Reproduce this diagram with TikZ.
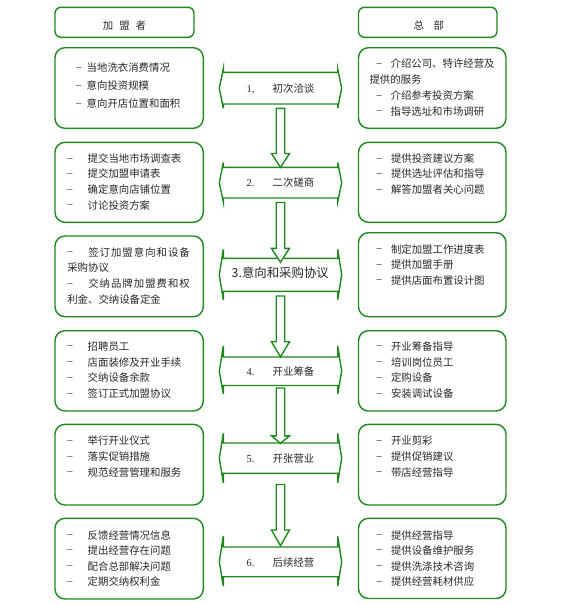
\documentclass[tikz,border=0pt]{standalone}
\usepackage{fontspec}
\setmainfont{Noto Sans CJK SC}
\newfontfamily\numfont{Liberation Serif}
\usetikzlibrary{calc}
\definecolor{gr}{RGB}{30,138,30}
\definecolor{tx}{RGB}{40,40,40}
\tikzset{
 gline/.style={draw=gr, line width=1.4pt, line join=miter},
 cbox/.style={draw=gr, line width=1.4pt, rounded corners=10pt, inner sep=0pt, outer sep=0pt, fill=white},
 hbox/.style={cbox, rounded corners=6pt},
 t/.style={anchor=base west, inner sep=0pt, outer sep=0pt, text=tx, font=\fontsize{10.4}{12}\selectfont},
 nt/.style={t, font=\numfont\fontsize{10.4}{12}\selectfont},
 abody/.style={inner sep=0pt, outer sep=0pt, minimum width=114.4pt},
}
% box: name, x1, y1, x2, y2
\newcommand\mybox[6][cbox]{\node[#1, minimum width={(#5-#3)*1pt}, minimum height={(#6-#4)*1pt}] (#2) at ({(#3+#5)/2},{(#4+#6)/2}) {};}
% dashed line item: name, dash x, text x, y centre, text
\newcommand\dl[5]{\node[nt] (#1d) at (#2,{#4+2.7}) {–}; \node[t] (#1) at (#3,{#4+4}) {#5};}
% plain line: name, x, y centre, text
\newcommand\pl[4]{\node[t] (#1) at (#2,{#3+4}) {#4};}
% horizontal double arrow: name, body top, body bottom, flare top, flare bottom
\newcommand\harrow[5]{%
 \node[abody, minimum height={(#3-#2)*1pt}] (#1) at (280.5,{(#2+#3)/2}) {};
 \draw[gline, fill=white] ($(#1.north west)+(0,-#4)$) -- (#1.north west) -- (#1.north east) -- ($(#1.north east)+(0,-#4)$) -- ($(#1.east)+(4,0)$) -- ($(#1.south east)+(0,#5)$) -- (#1.south east) -- (#1.south west) -- ($(#1.south west)+(0,#5)$) -- ($(#1.west)+(-4,0)$) -- cycle;}
% down block arrow: from, to, gap, head length, tip offset
\newcommand\darrow[5]{%
 \draw[gline, fill=white] let \p1=($(#1.south)+(0,#3)$), \p2=($(#2.north)+(0,#5)$) in
 (\x1-4.25pt,\y1) -- (\x1+4.25pt,\y1) -- (\x1+4.25pt,\y2+#4pt) -- (\x1+9pt,\y2+#4pt) -- (\x1,\y2) -- (\x1-9pt,\y2+#4pt) -- (\x1-4.25pt,\y2+#4pt) -- cycle;}
\begin{document}
\begin{tikzpicture}[x=1pt,y=-1pt]
\useasboundingbox (0,0) rectangle (571,605);
% headers
\mybox[hbox]{HL}{55}{7.3}{194}{37.3}
\mybox[hbox]{HR}{358.5}{7.3}{497}{37.3}
\node[t, anchor=base] (HLt) at (124.5,29) {加\hspace{6pt}盟\hspace{6pt}者};
\node[t, anchor=base] (HRt) at (428.7,29) {总\hspace{9.6pt}部};
% left boxes
\mybox{L1}{55}{47.7}{203.3}{128.3}
\mybox{L2}{55}{142.3}{203.3}{222.3}
\mybox{L3}{55}{236}{203.3}{316.7}
\mybox{L4}{55}{330.7}{203.3}{411}
\mybox{L5}{55}{424.3}{203.3}{505}
\mybox{L6}{55}{518.3}{203.3}{599}
% right boxes
\mybox{R1}{358.5}{47.7}{506}{128.3}
\mybox{R2}{358.5}{142.3}{506}{222.3}
\mybox{R3}{358.5}{232.7}{506}{316.7}
\mybox{R4}{358.5}{330.7}{506}{411}
\mybox{R5}{358.5}{424.3}{506}{505}
\mybox{R6}{358.5}{518.3}{506}{598.5}
% left texts
\dl{La1}{76}{86.7}{67.7}{当地洗衣消费情况}
\dl{La2}{76}{86.7}{85.7}{意向投资规模}
\dl{La3}{76}{86.7}{103.3}{意向开店位置和面积}
\dl{Lb1}{67.3}{87.7}{158.3}{提交当地市场调查表}
\dl{Lb2}{67.3}{87.7}{173.3}{提交加盟申请表}
\dl{Lb3}{67.3}{87.7}{189.3}{确定意向店铺位置}
\dl{Lb4}{67.3}{87.7}{205}{讨论投资方案}
\dl{Lc1}{67.3}{88.3}{252}{\addfontfeatures{LetterSpace=9.6}签订加盟意向和设备}
\pl{Lc2}{67.3}{267}{采购协议}
\dl{Lc3}{67.3}{88.3}{283.5}{\addfontfeatures{LetterSpace=9.6}交纳品牌加盟费和权}
\pl{Lc4}{67.3}{299.3}{利金、交纳设备定金}
\dl{Ld1}{67.3}{87.7}{346}{招聘员工}
\dl{Ld2}{67.3}{87.7}{362}{店面装修及开业手续}
\dl{Ld3}{67.3}{87.7}{377.7}{交纳设备余款}
\dl{Ld4}{67.3}{87.7}{393.3}{签订正式加盟协议}
\dl{Le1}{67.3}{87.7}{440.5}{举行开业仪式}
\dl{Le2}{67.3}{87.7}{456.3}{落实促销措施}
\dl{Le3}{67.3}{87.7}{472.2}{规范经营管理和服务}
\dl{Lf1}{67.3}{87.7}{535}{反馈经营情况信息}
\dl{Lf2}{67.3}{87.7}{550}{提出经营存在问题}
\dl{Lf3}{67.3}{87.7}{566}{配合总部解决问题}
\dl{Lf4}{67.3}{87.7}{581.7}{定期交纳权利金}
% right texts
\dl{Ra1}{376.5}{390.6}{63.3}{介绍公司、特许经营及}
\pl{Ra2}{369.5}{79.3}{提供的服务}
\dl{Ra3}{376.5}{390.6}{95.7}{介绍参考投资方案}
\dl{Ra4}{376.5}{390.6}{111}{指导选址和市场调研}
\dl{Rb1}{376.5}{391}{158.3}{提供投资建议方案}
\dl{Rb2}{376.5}{391}{173.3}{提供选址评估和指导}
\dl{Rb3}{376.5}{391}{189.3}{解答加盟者关心问题}
\dl{Rc1}{376.5}{391}{249}{制定加盟工作进度表}
\dl{Rc2}{376.5}{391}{264.3}{提供加盟手册}
\dl{Rc3}{376.5}{391}{280}{提供店面布置设计图}
\dl{Rd1}{376.5}{391}{346}{开业筹备指导}
\dl{Rd2}{376.5}{391}{362}{培训岗位员工}
\dl{Rd3}{376.5}{391}{377.7}{定购设备}
\dl{Rd4}{376.5}{391}{393.3}{安装调试设备}
\dl{Re1}{376.5}{391}{440.5}{开业剪彩}
\dl{Re2}{376.5}{391}{456.3}{提供促销建议}
\dl{Re3}{376.5}{391}{472.2}{带店经营指导}
\dl{Rf1}{376.5}{391}{535}{提供经营指导}
\dl{Rf2}{376.5}{391}{550}{提供设备维护服务}
\dl{Rf3}{376.5}{391}{566}{提供洗涤技术咨询}
\dl{Rf4}{376.5}{391}{581.7}{提供经营耗材供应}
% central arrows
\harrow{A1}{72.3}{104}{3.5}{4.3}
\harrow{A2}{167.3}{198}{4.8}{4}
\harrow{A3}{258.3}{291.3}{9}{8.7}
\harrow{A4}{357}{385.5}{11}{8.5}
\harrow{A5}{443}{473.3}{9.7}{9.5}
\harrow{A6}{547}{576.7}{11}{9.5}
\darrow{A1}{A2}{4.3}{13.8}{0}
\darrow{A2}{A3}{4.5}{14}{4}
\darrow{A3}{A4}{4.7}{15.3}{0}
\darrow{A4}{A5}{2.5}{7.5}{0.3}
\darrow{A5}{A6}{11.2}{15.7}{-1.3}
% arrow labels
\node[nt] (A1n) at (246.7,92.3) {1,};
\node[t] (A1t) at (272.7,92.3) {初次洽谈};
\node[nt] (A2n) at (246.7,186.7) {2.};
\node[t] (A2t) at (272.7,186.7) {二次磋商};
\node[t, font=\fontsize{12.4}{14}\selectfont] (A3t) at (231.7,277.7) {3.意向和采购协议};
\node[nt] (A4n) at (246.7,375.7) {4.};
\node[t] (A4t) at (272.7,375.7) {开业筹备};
\node[nt] (A5n) at (246.7,462.3) {5.};
\node[t] (A5t) at (272.7,462.3) {开张营业};
\node[nt] (A6n) at (246.7,566.3) {6.};
\node[t] (A6t) at (272.7,566.3) {后续经营};
\end{tikzpicture}
\end{document}
